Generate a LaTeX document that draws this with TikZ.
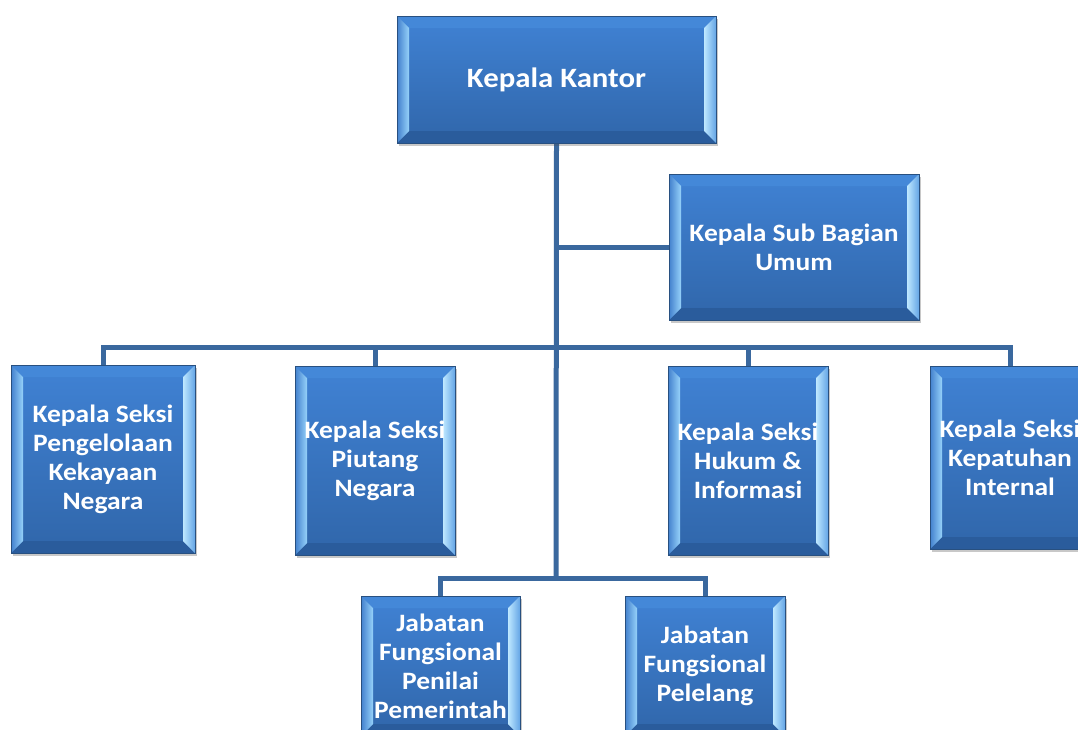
\documentclass[tikz,border=0pt]{standalone}
\usepackage{fontspec}
\newfontfamily\boxfont[FakeStretch=1.1]{Carlito}
\usetikzlibrary{shadows,calc,backgrounds}
\definecolor{facet}{RGB}{64,130,212}
\definecolor{faceb}{RGB}{48,102,170}
\definecolor{edgec}{RGB}{40,80,128}
\definecolor{bevLo}{RGB}{66,128,205}
\definecolor{bevLi}{RGB}{150,210,250}
\definecolor{bevRo}{RGB}{100,165,230}
\definecolor{bevRi}{RGB}{190,232,255}
\definecolor{bevT}{RGB}{68,136,216}
\definecolor{bevB}{RGB}{42,92,156}
\definecolor{connc}{RGB}{58,104,158}
\tikzset{
  bevelbox/.style={rectangle, draw=edgec, line width=0.8pt,
    top color=facet, bottom color=faceb, inner sep=0pt,
    text=white, align=center,
    font=\boxfont\bfseries\fontsize{25}{29}\selectfont,
    drop shadow={shadow xshift=2pt, shadow yshift=-3pt, opacity=0.3, fill=black!70},
    path picture={
      \coordinate (pNW) at (path picture bounding box.north west);
      \coordinate (pNE) at (path picture bounding box.north east);
      \coordinate (pSW) at (path picture bounding box.south west);
      \coordinate (pSE) at (path picture bounding box.south east);
      \fill[bevT] (pNW) -- (pNE) -- ($(pNE)+(-12pt,-12pt)$) -- ($(pNW)+(12pt,-12pt)$) -- cycle;
      \fill[bevB] (pSW) -- (pSE) -- ($(pSE)+(-12pt,12pt)$) -- ($(pSW)+(12pt,12pt)$) -- cycle;
      \shade[left color=bevLo, right color=bevLi] (pNW) -- ($(pNW)+(12pt,-12pt)$) -- ($(pSW)+(12pt,12pt)$) -- (pSW) -- cycle;
      \shade[left color=bevRi, right color=bevRo] (pNE) -- ($(pNE)+(-12pt,-12pt)$) -- ($(pSE)+(-12pt,12pt)$) -- (pSE) -- cycle;
    }},
  conn/.style={draw=connc, line width=5pt}
}
\begin{document}
\begin{tikzpicture}[x=1pt,y=-1pt]
\path[use as bounding box, clip] (0,0) rectangle (1078,729);

\coordinate (lowbus) at (556,578);
\node[bevelbox, minimum width=319pt, minimum height=127pt,
  font=\boxfont\bfseries\fontsize{28}{32}\selectfont] (kk) at (556.5,79.5) {Kepala Kantor};
\node[bevelbox, minimum width=250pt, minimum height=146pt] (sub) at (794,247) {Kepala Sub Bagian\\Umum};
\node[bevelbox, minimum width=184pt, minimum height=188pt] (pkn) at (103,459) {Kepala Seksi\\Pengelolaan\\Kekayaan\\Negara};
\node[bevelbox, minimum width=160pt, minimum height=189pt] (piu) at (375,460.5) {Kepala Seksi\\Piutang\\Negara};
\node[bevelbox, minimum width=160pt, minimum height=189pt] (huk) at (748,460.5) {Kepala Seksi\\Hukum \&\\Informasi};
\node[bevelbox, minimum width=160pt, minimum height=183pt] (kep) at (1010,457.5) {Kepala Seksi\\Kepatuhan\\Internal};
\node[bevelbox, minimum width=159pt, minimum height=140pt] (jf1) at (440.5,666) {Jabatan\\Fungsional\\Penilai\\Pemerintah};
\node[bevelbox, minimum width=160pt, minimum height=140pt] (jf2) at (705,666) {Jabatan\\Fungsional\\Pelelang};

\begin{pgfonlayer}{background}
\fill[white] (0,0) rectangle (1078,729);
\draw[conn] (kk.south) -- (lowbus);
\draw[conn] (kk.south |- sub.west) -- (sub.west);
\draw[conn] (pkn.north) -- ++(0,-17) -| (kep.north);
\draw[conn] (piu.north) -- ++(0,-18);
\draw[conn] (huk.north) -- ++(0,-18);
\draw[conn] (jf1.north) |- (lowbus) -| (jf2.north);
\end{pgfonlayer}
\end{tikzpicture}
\end{document}
